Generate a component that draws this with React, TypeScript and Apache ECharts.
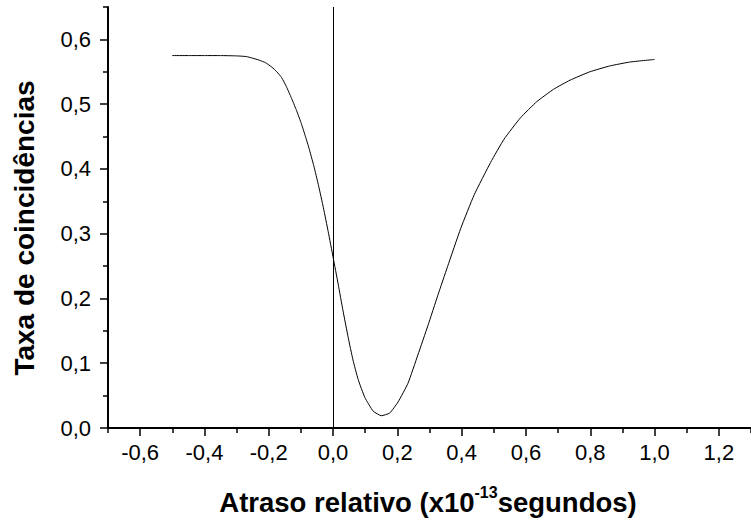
import React, { useEffect, useRef } from "react";
import * as echarts from "echarts";

const delayValues = [
  -0.5, -0.45, -0.4, -0.35, -0.3, -0.27, -0.25, -0.23, -0.21, -0.19, -0.175, -0.16,
  -0.145, -0.13, -0.115, -0.1, -0.087, -0.076, -0.06, -0.045, -0.03, -0.015, 0, 0.016,
  0.031, 0.047, 0.062, 0.078, 0.099, 0.125, 0.15, 0.176, 0.202, 0.233, 0.264, 0.295,
  0.326, 0.356, 0.397, 0.439, 0.49, 0.532, 0.583, 0.634, 0.686, 0.737, 0.799, 0.861,
  0.923, 1.0,
];
const rateValues = [
  0.575, 0.575, 0.575, 0.575, 0.5745, 0.5735, 0.571, 0.568, 0.564, 0.557, 0.55, 0.541,
  0.527, 0.51, 0.492, 0.472, 0.452, 0.434, 0.405, 0.374, 0.34, 0.303, 0.264, 0.222,
  0.181, 0.14, 0.105, 0.075, 0.047, 0.026, 0.019, 0.023, 0.04, 0.069, 0.113, 0.158,
  0.205, 0.249, 0.308, 0.36, 0.41, 0.446, 0.479, 0.504, 0.523, 0.537, 0.55, 0.559,
  0.565, 0.569,
];
const xMajorTicks = [-0.6, -0.4, -0.2, 0, 0.2, 0.4, 0.6, 0.8, 1.0, 1.2];
const xMinorTicks = [-0.7, -0.5, -0.3, -0.1, 0.1, 0.3, 0.5, 0.7, 0.9, 1.1, 1.3];
const yMajorTicks = [0, 0.1, 0.2, 0.3, 0.4, 0.5, 0.6];
const yMinorTicks = [0.05, 0.15, 0.25, 0.35, 0.45, 0.55, 0.65];

const FONT = '"Liberation Sans", Arial, sans-serif';

export default function App() {
  const ref = useRef<HTMLDivElement>(null);
  useEffect(() => {
    if (!ref.current) return;
    const chart = echarts.init(ref.current, null, { renderer: "svg" });
    const fmt = (v: number) => v.toFixed(1).replace(".", ",");
    const axisLine = { show: true, onZero: false, lineStyle: { color: "#000", width: 2 } };
    const tickStyle = { color: "#000", width: 1.5 };
    chart.setOption({
      animation: false,
      backgroundColor: "#fff",
      grid: { left: 108, top: 7, width: 647, height: 421, containLabel: false },
      xAxis: [
        {
          type: "value",
          min: -0.7,
          max: 1.3,
          axisLine,
          splitLine: { show: false },
          axisTick: { show: true, customValues: xMajorTicks, length: 8, lineStyle: tickStyle },
          axisLabel: {
            customValues: xMajorTicks,
            formatter: fmt,
            color: "#000",
            fontSize: 22,
            fontFamily: FONT,
            margin: 13,
          },
        },
        {
          type: "value",
          min: -0.7,
          max: 1.3,
          position: "bottom",
          axisLine: { show: false, onZero: false },
          splitLine: { show: false },
          axisTick: { show: true, customValues: xMinorTicks, length: 5, lineStyle: tickStyle },
          axisLabel: { show: false },
        },
      ],
      yAxis: [
        {
          type: "value",
          min: 0,
          max: 0.65,
          axisLine,
          splitLine: { show: false },
          axisTick: { show: true, customValues: yMajorTicks, length: 8, lineStyle: tickStyle },
          axisLabel: {
            customValues: yMajorTicks,
            formatter: fmt,
            color: "#000",
            fontSize: 22,
            fontFamily: FONT,
            margin: 17,
          },
        },
        {
          type: "value",
          min: 0,
          max: 0.65,
          position: "left",
          axisLine: { show: false, onZero: false },
          splitLine: { show: false },
          axisTick: { show: true, customValues: yMinorTicks, length: 5, lineStyle: tickStyle },
          axisLabel: { show: false },
        },
      ],
      graphic: [
        {
          type: "text",
          x: 428,
          y: 500,
          style: {
            text: "{a|Atraso relativo (x10}{s|-13}{a|segundos)}",
            align: "center",
            verticalAlign: "middle",
            rich: {
              a: { fontSize: 27.5, fontWeight: "bold", fontFamily: FONT, fill: "#000", lineHeight: 32, verticalAlign: "bottom" },
              s: { fontSize: 16, fontWeight: "bold", fontFamily: FONT, fill: "#000", lineHeight: 32, verticalAlign: "top" },
            },
          },
        },
        {
          type: "text",
          x: 24,
          y: 228,
          rotation: Math.PI / 2,
          style: {
            text: "Taxa de coincidências",
            align: "center",
            verticalAlign: "middle",
            fontSize: 28,
            fontWeight: "bold",
            fontFamily: FONT,
            fill: "#000",
          },
        },
      ],
      series: [
        {
          type: "line",
          xAxisIndex: 0,
          yAxisIndex: 0,
          data: delayValues.map((x, i) => [x, rateValues[i]]),
          showSymbol: false,
          smooth: 0.15,
          lineStyle: { color: "#000", width: 1 },
          markLine: {
            silent: true,
            symbol: "none",
            label: { show: false },
            lineStyle: { color: "#000", width: 1, type: "solid" },
            data: [{ xAxis: 0 }],
          },
        },
      ],
    });
    return () => chart.dispose();
  }, []);
  return <div ref={ref} style={{ position: "absolute", left: 0, top: 0, width: 751, height: 523 }} />;
}
